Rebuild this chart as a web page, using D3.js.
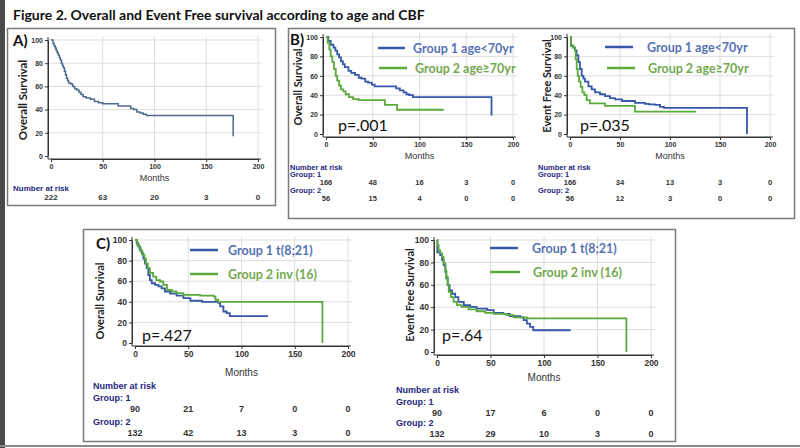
<!DOCTYPE html>
<html><head><meta charset="utf-8">
<script src="https://cdn.jsdelivr.net/npm/d3@7"></script>
<style>
html,body{margin:0;padding:0;background:#fff;}
svg{display:block;}
</style></head>
<body>
<svg id="c" width="800" height="448"></svg>
<script>
// ---------- DATA ----------
const monthTicks = [0, 50, 100, 150, 200];
const survTicks = [0, 20, 40, 60, 80, 100];

const osAll = [[0,100],[2,97],[3,95],[4,93],[5,91],[6,89],[7,87],[8,85],[9,83],[10,80],[11,78],[12,76],[13,73],[14,70],[15,67],[16,65],[17,63],[19,62],[21,60],[23,58],[25,57],[27,55],[29,53],[31,51],[34,50],[38,49],[42,47],[46,46],[50,45],[65,43],[77,41],[80,40],[83,38],[86,37],[89,36],[92,35],[176,35],[176,17]];
const riskAll = [222, 63, 20, 3, 0];

const osAgeYoung = [[0,100],[2.5,96],[5,92],[8,89],[10,86],[12,82],[14,79],[16,75],[18,72],[20,69],[24,65],[27,63],[31,61],[35,58],[38,57],[42,54],[45,53],[49,51],[52,49],[75,47],[79,45],[83,43],[86,41],[89,40],[93,38],[177,38],[177,19]];
const osAgeOld = [[0,100],[1.8,94],[3.6,87],[5,80],[6.8,74],[8.6,67],[10.4,60],[12,55],[14,50],[16,46],[18.6,44],[21,41],[24.6,38],[29,36],[35,35],[63,30],[76,25],[126,25]];
const riskOsAgeYoung = [166, 48, 16, 3, 0];
const riskOsAgeOld = [56, 15, 4, 0, 0];

const efsAgeYoung = [[0,100],[1,91],[3.3,89],[5,86],[6.7,81],[8.4,74],[10,67],[11.7,60],[13.4,57],[15,54],[18.4,49],[21.7,46],[25,43],[30,41],[35,39],[40,37],[45,35.6],[52,34],[65,32],[75,31],[79,30.5],[85,30],[90,28],[94,27],[177,27],[177,0]];
const efsAgeOld = [[0,100],[1,91],[3.3,89],[5,87],[5.7,77],[6.7,67],[7.7,60],[9,54],[10.7,48.5],[12.4,43],[14.4,40],[16.7,35],[20,31.5],[35,29],[65,23],[126,23]];
const riskEfsAgeYoung = [166, 34, 13, 3, 0];
const riskEfsAgeOld = [56, 12, 3, 0, 0];

const osT821 = [[0,100],[1.6,97],[3.1,93.5],[4.7,90],[6.3,87],[7.8,82],[9.4,77],[11,72.6],[12.5,66],[14,61],[15.7,58],[18.8,56.5],[22,55],[25,53],[28,50],[33,48],[39,46],[45.5,43.5],[52,41],[63,40],[78,39],[80,35.5],[83,30.6],[86,29],[89,26],[125,26]];
const osInv16 = [[0,100],[2,95],[4,92],[5.6,89],[7,85.5],[8.8,82],[10.3,77],[12,72.6],[14,68],[17,64.5],[20,61],[23.5,59.7],[26.6,56.5],[30,51.6],[34.5,50],[39,48.4],[45.5,46.8],[61,46],[74,45],[75.5,42],[78,40],[176,40],[176,0]];
const riskOsT821 = [90, 21, 7, 0, 0];
const riskOsInv16 = [132, 42, 13, 3, 0];

const efsT821 = [[0,100],[0.3,89],[3,86.6],[4.7,82],[6.2,77.6],[7.8,71.6],[8.7,65.7],[10,59.7],[11.8,55],[14,52],[17,49],[20,44.8],[25,41.8],[31,40.3],[37,38.8],[47,37.3],[53,35],[62,34],[68,32],[78,31],[81,28.4],[84,25.4],[87,22.4],[90,19.4],[125,19.4]];
const efsInv16 = [[0,100],[0.6,95.5],[1.5,91],[3,88],[4.7,85],[6.2,79],[7.8,73],[8.7,67],[10,59.7],[11,53.7],[13,49],[15.5,44.8],[18.7,41.8],[23,40.3],[29.5,38],[37,36.4],[45,35],[53,34],[65,33],[71.5,31],[84,30],[177,30],[177,0]];
const riskEfsT821 = [90, 17, 6, 0, 0];
const riskEfsInv16 = [132, 29, 10, 3, 0];

const titleText = "Figure 2. Overall and Event Free survival according to age and CBF";
const legendAge = ["Group 1 age<70yr", "Group 2 age\u226570yr"];
const legendCbf = ["Group 1 t(8;21)", "Group 2 inv (16)"];

// ---------- STYLE ----------
const BLUE = "#3558a8", GREEN = "#5aab3c", SLATE = "#4d6a8e";
const BLUE_T = "#5672b4", GREEN_T = "#74a84f";
const NAVY = "#262680";
const AX_FONT = "'Liberation Sans', Arial, sans-serif";
const CAL = "Lato, 'Open Sans', sans-serif";

const svg = d3.select("#c");
svg.append("rect").attr("width",800).attr("height",448).attr("fill","#fff");
svg.append("rect").attr("x",0).attr("y",0).attr("width",5).attr("height",448).attr("fill","#4a4a4a");
svg.append("line").attr("x1",0).attr("x2",800).attr("y1",446).attr("y2",446).attr("stroke","#8a8a8a").attr("stroke-width",2);

svg.append("text").attr("x",13).attr("y",20).text(titleText)
  .attr("font-family",CAL).attr("font-weight",700).attr("font-size",14).attr("fill","#111");

// boxes
const boxes = [[7,28,268,177],[288,28,506,190],[83,229,592,212]];
svg.selectAll("rect.box").data(boxes).join("rect").attr("class","box")
  .attr("x",d=>d[0]+0.5).attr("y",d=>d[1]+0.5).attr("width",d=>d[2]).attr("height",d=>d[3])
  .attr("fill","none").attr("stroke","#7a7a7a").attr("stroke-width",1.5);

function panel(cfg){
  const x = d3.scaleLinear().domain([0,200]).range(cfg.xr);
  const y = d3.scaleLinear().domain([0,100]).range(cfg.yr);
  const g = svg.append("g");
  const fs = cfg.fs || 7;
  // grid
  g.selectAll("line.vg").data(monthTicks.slice(1)).join("line")
    .attr("x1",d=>x(d)).attr("x2",d=>x(d)).attr("y1",y(100)-4).attr("y2",y(0)+3)
    .attr("stroke","#dedede").attr("stroke-width",1);
  g.selectAll("line.hg").data(survTicks.slice(1)).join("line")
    .attr("x1",x(0)-3).attr("x2",x(200)+4).attr("y1",d=>y(d)).attr("y2",d=>y(d))
    .attr("stroke","#dedede").attr("stroke-width",1);
  // axes
  const ya = g.append("g").attr("transform",`translate(${x(0)-3},0)`)
    .call(d3.axisLeft(y).tickValues(survTicks).tickSize(3).tickSizeOuter(0).tickPadding(2));
  const xa = g.append("g").attr("transform",`translate(0,${y(0)+3})`)
    .call(d3.axisBottom(x).tickValues(monthTicks).tickSize(3).tickSizeOuter(0).tickPadding(2));
  [ya,xa].forEach(a=>{
    a.select(".domain").attr("stroke","#333").attr("stroke-width",1);
    a.selectAll(".tick line").attr("stroke","#333");
    a.selectAll("text").attr("font-family",AX_FONT).attr("font-weight",700).attr("font-size",fs).attr("fill","#333");
  });
  g.append("line").attr("x1",x(0)-3).attr("x2",x(0)-3).attr("y1",y(100)-3).attr("y2",y(0)+3).attr("stroke","#333");
  g.append("line").attr("x1",x(0)-3).attr("x2",x(200)+3).attr("y1",y(0)+3).attr("y2",y(0)+3).attr("stroke","#333");
  // months label
  g.append("text").attr("x",(x(0)+x(200))/2).attr("y",cfg.monthsY).attr("text-anchor","middle")
    .attr("font-family",AX_FONT).attr("font-size",cfg.mfs||9).attr("fill","#333").text("Months");
  // y title
  g.append("text").attr("transform",`translate(${cfg.yt[0]},${cfg.yt[1]}) rotate(-90)`)
    .attr("text-anchor","middle").attr("font-family",CAL).attr("font-weight",700)
    .attr("font-size",cfg.ytfs||11).attr("fill","#222").text(cfg.ytitle);
  // curves
  const line = d3.line().x(d=>x(d[0])).y(d=>y(d[1])).curve(d3.curveStepAfter);
  cfg.series.forEach(s=>{
    g.append("path").datum(s.data).attr("d",line).attr("fill","none")
      .attr("stroke",s.color).attr("stroke-width",cfg.lw||1.8);
  });
  // legend
  if(cfg.legend){
    cfg.legend.forEach((L,i)=>{
      g.append("line").attr("x1",L.lx[0]).attr("x2",L.lx[1]).attr("y1",L.ly).attr("y2",L.ly)
        .attr("stroke",cfg.series[i].color).attr("stroke-width",2.5);
      g.append("text").attr("x",L.tx).attr("y",L.ly+4.5).attr("font-family",CAL).attr("font-weight",700)
        .attr("font-size",cfg.lfs||12.5).attr("fill",i===0?BLUE_T:GREEN_T).text(L.text);
    });
  }
  if(cfg.p){
    g.append("text").attr("x",cfg.p[0]).attr("y",cfg.p[1]).attr("font-family",CAL)
      .attr("font-size",cfg.pfs||16).attr("fill","#111").text(cfg.p[2]);
  }
  // number at risk
  const rfs = cfg.rfs || 7.5;
  g.append("text").attr("x",cfg.nar[0]).attr("y",cfg.nar[1]).attr("font-family",AX_FONT).attr("font-weight",700)
    .attr("font-size",rfs).attr("fill",NAVY).text("Number at risk");
  cfg.risk.forEach(r=>{
    if(r.label) g.append("text").attr("x",cfg.nar[0]).attr("y",r.labelY).attr("font-family",AX_FONT)
      .attr("font-weight",700).attr("font-size",rfs).attr("fill",NAVY).text(r.label);
    g.selectAll(null).data(r.vals).join("text")
      .attr("x",(d,i)=>x(monthTicks[i])).attr("y",r.y).attr("text-anchor","middle")
      .attr("font-family",AX_FONT).attr("font-weight",700).attr("font-size",rfs).attr("fill","#333").text(d=>d);
  });
  if(cfg.tag){
    g.append("text").attr("x",cfg.tag[0]).attr("y",cfg.tag[1]).attr("font-family",CAL).attr("font-weight",700)
      .attr("font-size",15).attr("fill","#111").text(cfg.tag[2]);
  }
}

// Panel A
panel({xr:[51,258], yr:[156,40], monthsY:181, yt:[27,100], ytitle:"Overall Survival", ytfs:11.5,
  lw:1.5, rfs:8, series:[{data:osAll,color:SLATE}],
  nar:[13,191], risk:[{vals:riskAll,y:200}], tag:[13,46,"A)"]});

// Panel B left
panel({xr:[326,513], yr:[134,37], monthsY:159, yt:[302,87], ytitle:"Overall Survival",
  series:[{data:osAgeYoung,color:BLUE},{data:osAgeOld,color:GREEN}],
  legend:[{lx:[378,405],ly:48,tx:413,text:legendAge[0]},{lx:[379,407],ly:68,tx:415,text:legendAge[1]}],
  p:[338,131,"p=.001"],
  nar:[290,169.5], risk:[{label:"Group: 1",labelY:177,vals:riskOsAgeYoung,y:185},{label:"Group: 2",labelY:193,vals:riskOsAgeOld,y:201}],
  tag:[290,45,"B)"]});

// Panel B right
panel({xr:[570,770], yr:[134,37], monthsY:159, yt:[551,86], ytitle:"Event Free Survival",
  series:[{data:efsAgeYoung,color:BLUE},{data:efsAgeOld,color:GREEN}],
  legend:[{lx:[605,633],ly:47,tx:647,text:legendAge[0]},{lx:[607,635],ly:68,tx:648,text:legendAge[1]}],
  p:[580,131,"p=.035"],
  nar:[538,169.5], risk:[{label:"Group: 1",labelY:177,vals:riskEfsAgeYoung,y:185},{label:"Group: 2",labelY:193,vals:riskEfsAgeOld,y:201}]});

// Panel C left
panel({xr:[135,348], yr:[343,240], monthsY:376, yt:[104,301], ytitle:"Overall Survival", fs:8.5, rfs:9, mfs:10,
  series:[{data:osT821,color:BLUE},{data:osInv16,color:GREEN}],
  legend:[{lx:[190,218],ly:250,tx:228,text:legendCbf[0]},{lx:[190,218],ly:274,tx:228,text:legendCbf[1]}],
  p:[142,341,"p=.427"],
  nar:[93,389], risk:[{label:"Group: 1",labelY:401,vals:riskOsT821,y:412},{label:"Group: 2",labelY:425,vals:riskOsInv16,y:436}],
  tag:[96,249,"C)"]});

// Panel C right
panel({xr:[437,651], yr:[352,240], monthsY:381, yt:[414,295], ytitle:"Event Free Survival", fs:8.5, rfs:9, mfs:10,
  series:[{data:efsT821,color:BLUE},{data:efsInv16,color:GREEN}],
  legend:[{lx:[490,518],ly:248,tx:532,text:legendCbf[0]},{lx:[490,520],ly:272,tx:533,text:legendCbf[1]}],
  p:[442,341,"p=.64"],
  nar:[396,393], risk:[{label:"Group: 1",labelY:405,vals:riskEfsT821,y:416},{label:"Group: 2",labelY:426,vals:riskEfsInv16,y:437}]});
</script>
</body></html>
